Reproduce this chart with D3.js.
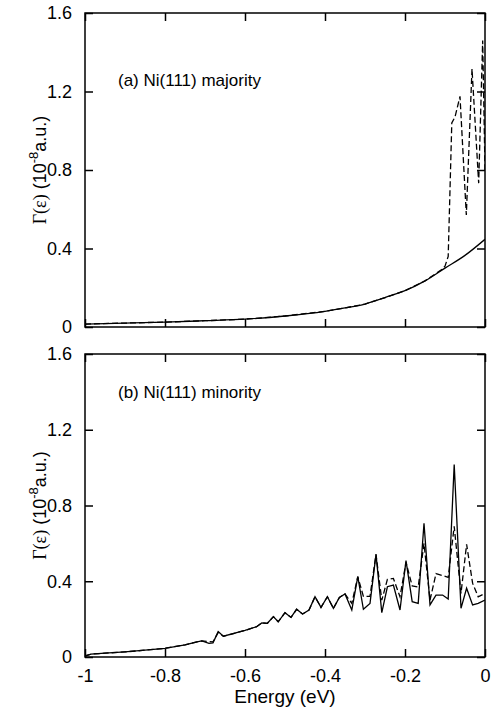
<!DOCTYPE html>
<html>
<head>
<meta charset="utf-8">
<script src="https://cdn.jsdelivr.net/npm/d3@7"></script>
<style>
  body { margin: 0; background: #fff; }
  svg { display: block; }
  text { font-family: "Liberation Sans", Arial, Helvetica, sans-serif; }
</style>
</head>
<body>
<svg id="chart" width="500" height="712"></svg>
<script>
// ---------- data ----------
const xTicks = [-1, -0.8, -0.6, -0.4, -0.2, 0];
const xTickLabels = ["-1", "-0.8", "-0.6", "-0.4", "-0.2", "0"];
const yTicks = [0, 0.4, 0.8, 1.2, 1.6];
const yTickLabels = ["0", "0.4", "0.8", "1.2", "1.6"];
const panelLabels = ["(a) Ni(111) majority", "(b) Ni(111) minority"];

// (a) majority, solid
const majSolidE = [-1, -0.9, -0.8, -0.7, -0.6, -0.5, -0.4, -0.35, -0.3, -0.25, -0.2, -0.15, -0.1, -0.05, 0];
const majSolidV = [0.015, 0.02, 0.025, 0.032, 0.04, 0.056, 0.08, 0.097, 0.117, 0.15, 0.185, 0.235, 0.30, 0.365, 0.447];
// (a) majority, dashed
const majDashE = [-1, -0.9, -0.8, -0.7, -0.6, -0.5, -0.4, -0.35, -0.3, -0.25, -0.2, -0.15, -0.11, -0.1, -0.092, -0.083, -0.075, -0.0625, -0.0467, -0.0325, -0.0158, -0.0058, 0];
const majDashV = [0.015, 0.02, 0.025, 0.032, 0.04, 0.056, 0.08, 0.097, 0.117, 0.15, 0.185, 0.235, 0.29, 0.31, 0.36, 1.04, 1.07, 1.175, 0.571, 1.315, 0.733, 1.46, 0.8];

// (b) minority
const minE = [-1, -0.985, -0.95, -0.9, -0.85, -0.8, -0.75, -0.72, -0.708, -0.69, -0.68, -0.667, -0.654, -0.6, -0.571, -0.558, -0.544, -0.529, -0.517, -0.5, -0.485, -0.471, -0.456, -0.44, -0.425, -0.41, -0.394, -0.379, -0.364, -0.35, -0.333, -0.318, -0.304, -0.2875, -0.2725, -0.258, -0.244, -0.229, -0.2125, -0.1975, -0.182, -0.167, -0.1525, -0.1375, -0.1225, -0.106, -0.092, -0.077, -0.06, -0.046, -0.031, -0.017, 0];
const minSolidV = [0.005, 0.015, 0.02, 0.027, 0.036, 0.046, 0.064, 0.08, 0.085, 0.072, 0.075, 0.134, 0.11, 0.14, 0.16, 0.18, 0.178, 0.213, 0.186, 0.234, 0.209, 0.252, 0.227, 0.248, 0.318, 0.262, 0.318, 0.257, 0.315, 0.333, 0.248, 0.424, 0.252, 0.283, 0.542, 0.234, 0.371, 0.38, 0.248, 0.509, 0.292, 0.283, 0.706, 0.275, 0.327, 0.327, 0.306, 1.017, 0.257, 0.363, 0.275, 0.283, 0.301];
const minDashV = [0.005, 0.015, 0.02, 0.027, 0.036, 0.046, 0.064, 0.08, 0.085, 0.082, 0.08, 0.13, 0.11, 0.14, 0.16, 0.18, 0.178, 0.213, 0.186, 0.234, 0.209, 0.252, 0.227, 0.248, 0.318, 0.262, 0.318, 0.257, 0.315, 0.333, 0.283, 0.424, 0.32, 0.32, 0.542, 0.30, 0.41, 0.415, 0.318, 0.50, 0.375, 0.37, 0.60, 0.30, 0.44, 0.43, 0.42, 0.69, 0.336, 0.595, 0.39, 0.318, 0.336];

// ---------- drawing ----------
const svg = d3.select("#chart");
const x = d3.scaleLinear().domain([-1, 0]).range([85, 485]);

const panels = [
  { y: d3.scaleLinear().domain([0, 1.6]).range([327, 13]), label: panelLabels[0], labelY: 86, showX: false,
    series: [{ e: majSolidE, v: majSolidV, dash: null }, { e: majDashE, v: majDashV, dash: "6,3" }] },
  { y: d3.scaleLinear().domain([0, 1.6]).range([657, 354]), label: panelLabels[1], labelY: 398, showX: true,
    series: [{ e: minE, v: minDashV, dash: "6,3" }, { e: minE, v: minSolidV, dash: null }] }
];

panels.forEach((p, i) => {
  const g = svg.append("g");
  const [y0, y1] = p.y.range();
  const clipId = "clip" + i;
  svg.append("clipPath").attr("id", clipId).append("rect")
    .attr("x", 85).attr("y", y1).attr("width", 400).attr("height", y0 - y1);

  // lines
  p.series.forEach(s => {
    const pts = s.e.map((e, k) => [e, s.v[k]]);
    const line = d3.line().x(d => x(d[0])).y(d => p.y(d[1]));
    if (i === 0 && !s.dash) line.curve(d3.curveMonotoneX);
    g.append("path").datum(pts)
      .attr("clip-path", `url(#${clipId})`)
      .attr("d", line)
      .attr("fill", "none").attr("stroke", "#000")
      .attr("stroke-width", 1.3)
      .attr("stroke-dasharray", s.dash);
  });

  // axes
  const left = d3.axisLeft(p.y).tickValues(yTicks).tickFormat((d, k) => yTickLabels[k]).tickSize(-8).tickPadding(13).tickSizeOuter(0);
  const right = d3.axisRight(p.y).tickValues(yTicks).tickFormat("").tickSize(-8).tickSizeOuter(0);
  const bottom = d3.axisBottom(x).tickValues(xTicks).tickFormat((d, k) => p.showX ? xTickLabels[k] : "").tickSize(-8).tickPadding(12).tickSizeOuter(0);
  const top = d3.axisTop(x).tickValues(xTicks).tickFormat("").tickSize(-8).tickSizeOuter(0);

  [[left, `translate(85,0)`], [right, `translate(485,0)`], [bottom, `translate(0,${y0})`], [top, `translate(0,${y1})`]].forEach(([ax, tr]) => {
    const a = g.append("g").attr("transform", tr).call(ax);
    a.select(".domain").remove();
    a.selectAll("line").attr("stroke", "#000").attr("stroke-width", 1.5);
    a.selectAll("text").attr("font-size", 18).attr("fill", "#000")
      .attr("font-family", '"Liberation Sans", Arial, sans-serif');
  });

  g.append("rect").attr("x", 85).attr("y", y1).attr("width", 400).attr("height", y0 - y1)
    .attr("fill", "none").attr("stroke", "#000").attr("stroke-width", 1.5);

  // panel label
  g.append("text").attr("x", 118).attr("y", p.labelY).attr("font-size", 17).text(p.label);

  // y-axis label
  const cy = (y0 + y1) / 2;
  const t = g.append("text").attr("transform", `translate(46,${cy}) rotate(-90)`)
    .attr("text-anchor", "middle").attr("font-size", 18);
  t.append("tspan").attr("font-family", '"Liberation Serif", "Times New Roman", serif').text("Γ(ε)");
  t.append("tspan").text(" (10");
  t.append("tspan").attr("font-size", 13).attr("dy", -8).text("-8");
  t.append("tspan").attr("dy", 8).text("a.u.)");
});

svg.append("text").attr("x", 285).attr("y", 703).attr("text-anchor", "middle")
  .attr("font-size", 19).text("Energy (eV)");
</script>
</body>
</html>
